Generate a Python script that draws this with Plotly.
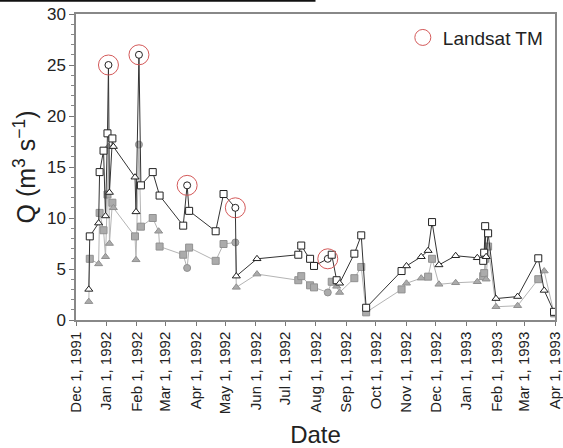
import plotly.graph_objects as go

# Dark series (open markers)
dark_dates = ["1991-12-14", "1991-12-15", "1991-12-24", "1991-12-25", "1991-12-29", "1991-12-31",
              "1992-01-02", "1992-01-03", "1992-01-04", "1992-01-07", "1992-01-08", "1992-01-30",
              "1992-01-31", "1992-02-03", "1992-02-05", "1992-02-17", "1992-02-24", "1992-03-19",
              "1992-03-23", "1992-03-25", "1992-04-21", "1992-04-29", "1992-05-11", "1992-05-12",
              "1992-06-02", "1992-07-14", "1992-07-17", "1992-07-26", "1992-07-30", "1992-08-13",
              "1992-08-17", "1992-08-22", "1992-08-25", "1992-09-09", "1992-09-16", "1992-09-21",
              "1992-10-27", "1992-11-01", "1992-11-16", "1992-11-23", "1992-11-27", "1992-12-04",
              "1992-12-21", "1993-01-12", "1993-01-18", "1993-01-19", "1993-01-20", "1993-01-21",
              "1993-01-23", "1993-01-31", "1993-02-22", "1993-03-15", "1993-03-21", "1993-03-31"]
dark_vals = [3.0, 8.2, 9.5, 14.5, 16.6, 10.2,
             18.3, 25.0, 12.5, 17.8, 17.0, 14.0,
             10.6, 26.0, 13.2, 14.5, 12.2, 9.25,
             13.2, 10.7, 8.7, 12.35, 11.0, 4.3,
             6.0, 6.4, 7.3, 6.0, 5.3, 6.0,
             6.4, 3.9, 3.6, 6.5, 8.3, 1.2,
             4.8, 5.3, 6.2, 6.8, 9.6, 5.4,
             6.3, 6.1, 5.8, 6.6, 9.2, 6.2,
             8.5, 2.1, 2.3, 6.05, 2.9, 0.8]
dark_sym = ["t", "s", "t", "s", "s", "t",
            "s", "c", "t", "s", "t", "t",
            "t", "c", "s", "s", "s", "s",
            "c", "s", "s", "s", "c", "t",
            "t", "s", "s", "s", "s", "c",
            "s", "s", "t", "s", "s", "s",
            "s", "t", "t", "t", "s", "t",
            "t", "t", "s", "s", "s", "t",
            "s", "t", "t", "s", "t", "s"]

# Gray series (filled markers)
gray_dates = ["1991-12-14", "1991-12-15", "1991-12-24", "1991-12-25", "1991-12-29", "1991-12-31",
              "1992-01-02", "1992-01-03", "1992-01-04", "1992-01-07", "1992-01-08", "1992-01-30",
              "1992-01-31", "1992-02-03", "1992-02-05", "1992-02-17", "1992-02-23", "1992-02-24",
              "1992-03-19", "1992-03-23", "1992-03-25", "1992-04-21", "1992-04-29", "1992-05-11",
              "1992-05-12", "1992-06-02", "1992-07-14", "1992-07-17", "1992-07-26", "1992-07-30",
              "1992-08-13", "1992-08-17", "1992-08-22", "1992-08-25", "1992-09-09", "1992-09-16",
              "1992-09-21", "1992-10-27", "1992-11-01", "1992-11-16", "1992-11-23", "1992-11-27",
              "1992-12-04", "1992-12-21", "1993-01-12", "1993-01-18", "1993-01-19", "1993-01-20",
              "1993-01-21", "1993-01-23", "1993-01-31", "1993-02-22", "1993-03-15", "1993-03-21",
              "1993-03-31"]
gray_vals = [1.8, 6.0, 5.5, 10.5, 8.8, 6.2,
             12.3, 17.0, 7.5, 11.5, 11.0, 8.2,
             5.9, 17.2, 9.15, 10.0, 8.7, 7.2,
             6.4, 5.1, 7.1, 5.8, 7.45, 7.6,
             3.2, 4.5, 3.9, 4.3, 3.4, 3.2,
             2.7, 3.75, 3.3, 2.7, 4.1, 5.2,
             0.75, 3.0, 3.6, 4.1, 4.25, 6.0,
             3.5, 3.65, 3.75, 4.3, 4.6, 6.0,
             4.0, 7.2, 1.3, 1.4, 4.0, 4.8,
             0.65]
gray_sym = ["t", "s", "t", "s", "s", "t",
            "s", "t", "t", "s", "t", "s",
            "t", "c", "s", "s", "t", "s",
            "s", "c", "s", "s", "s", "c",
            "t", "t", "s", "s", "s", "s",
            "c", "s", "t", "t", "s", "s",
            "s", "s", "t", "t", "s", "s",
            "t", "t", "t", "s", "s", "s",
            "t", "s", "t", "t", "s", "t",
            "s"]

# Landsat TM acquisition dates
landsat_dates = ["1992-01-03", "1992-02-03", "1992-03-23", "1992-05-11", "1992-08-13"]
landsat_vals = [25.0, 26.0, 13.2, 11.0, 6.0]

tick_dates = ["1991-12-01", "1992-01-01", "1992-02-01", "1992-03-01", "1992-04-01", "1992-05-01",
              "1992-06-01", "1992-07-01", "1992-08-01", "1992-09-01", "1992-10-01", "1992-11-01",
              "1992-12-01", "1993-01-01", "1993-02-01", "1993-03-01", "1993-04-01"]
tick_text = ["Dec 1, 1991", "Jan 1, 1992", "Feb 1, 1992", "Mar 1, 1992", "Apr 1, 1992",
             "May 1, 1992", "Jun 1, 1992", "Jul 1, 1992", "Aug 1, 1992", "Sep 1, 1992",
             "Oct 1, 1992", "Nov 1, 1992", "Dec 1, 1992", "Jan 1, 1993", "Feb 1, 1993",
             "Mar 1, 1993", "Apr 1, 1993"]

symmap = {"s": "square", "t": "triangle-up", "c": "circle"}

fig = go.Figure()
fig.add_trace(go.Scatter(
    x=gray_dates, y=gray_vals, mode="lines+markers", showlegend=False,
    line=dict(color="#b4b4b4", width=1),
    marker=dict(symbol=[symmap[s] for s in gray_sym], size=7, color="#ababab",
                line=dict(color="#909090", width=1)),
))
fig.add_trace(go.Scatter(
    x=dark_dates, y=dark_vals, mode="lines+markers", showlegend=False,
    line=dict(color="#333333", width=1),
    marker=dict(symbol=[symmap[s] for s in dark_sym], size=7, color="white",
                line=dict(color="#222222", width=1)),
))
fig.add_trace(go.Scatter(
    x=landsat_dates, y=landsat_vals, mode="markers", name="Landsat TM",
    marker=dict(symbol="circle-open", size=20, color="#d45a5a", line=dict(width=1)),
))

fig.add_shape(type="line", xref="paper", yref="paper",
              x0=-0.16, x1=0.5, y0=1.043, y1=1.043,
              line=dict(color="#111111", width=2))

fig.update_layout(
    width=563, height=448,
    margin=dict(l=76, r=8, t=14, b=128),
    paper_bgcolor="white", plot_bgcolor="white",
    font=dict(family="Liberation Sans, Arial, sans-serif", color="#222222"),
    legend=dict(x=0.985, y=0.985, xanchor="right", yanchor="top",
                bgcolor="rgba(0,0,0,0)", font=dict(size=19)),
)
fig.update_xaxes(
    type="date", range=["1991-12-01", "1993-04-01"], automargin=False,
    tickvals=tick_dates, ticktext=tick_text, tickangle=-90,
    tickfont=dict(size=15), ticks="outside", ticklen=4, tickcolor="#777777",
    showline=True, linecolor="#888888", linewidth=1.5, mirror=True,
    showgrid=False, zeroline=False,
    title=dict(text="Date", font=dict(size=24), standoff=14),
)
fig.update_yaxes(
    range=[0, 30], tickvals=[0, 5, 10, 15, 20, 25, 30], automargin=False,
    tickfont=dict(size=17), ticks="outside", ticklen=5, tickcolor="#777777",
    minor=dict(dtick=1, ticks="outside", ticklen=3, tickcolor="#888888"),
    showline=True, linecolor="#888888", linewidth=1.5, mirror=True,
    showgrid=False, zeroline=False,
    title=dict(text="Q (m<sup>3</sup> s<sup>\u22121</sup>)", font=dict(size=25), standoff=4),
)

fig.write_html("out.html", post_script="document.body.style.margin='0';",
               config={"displayModeBar": False})
